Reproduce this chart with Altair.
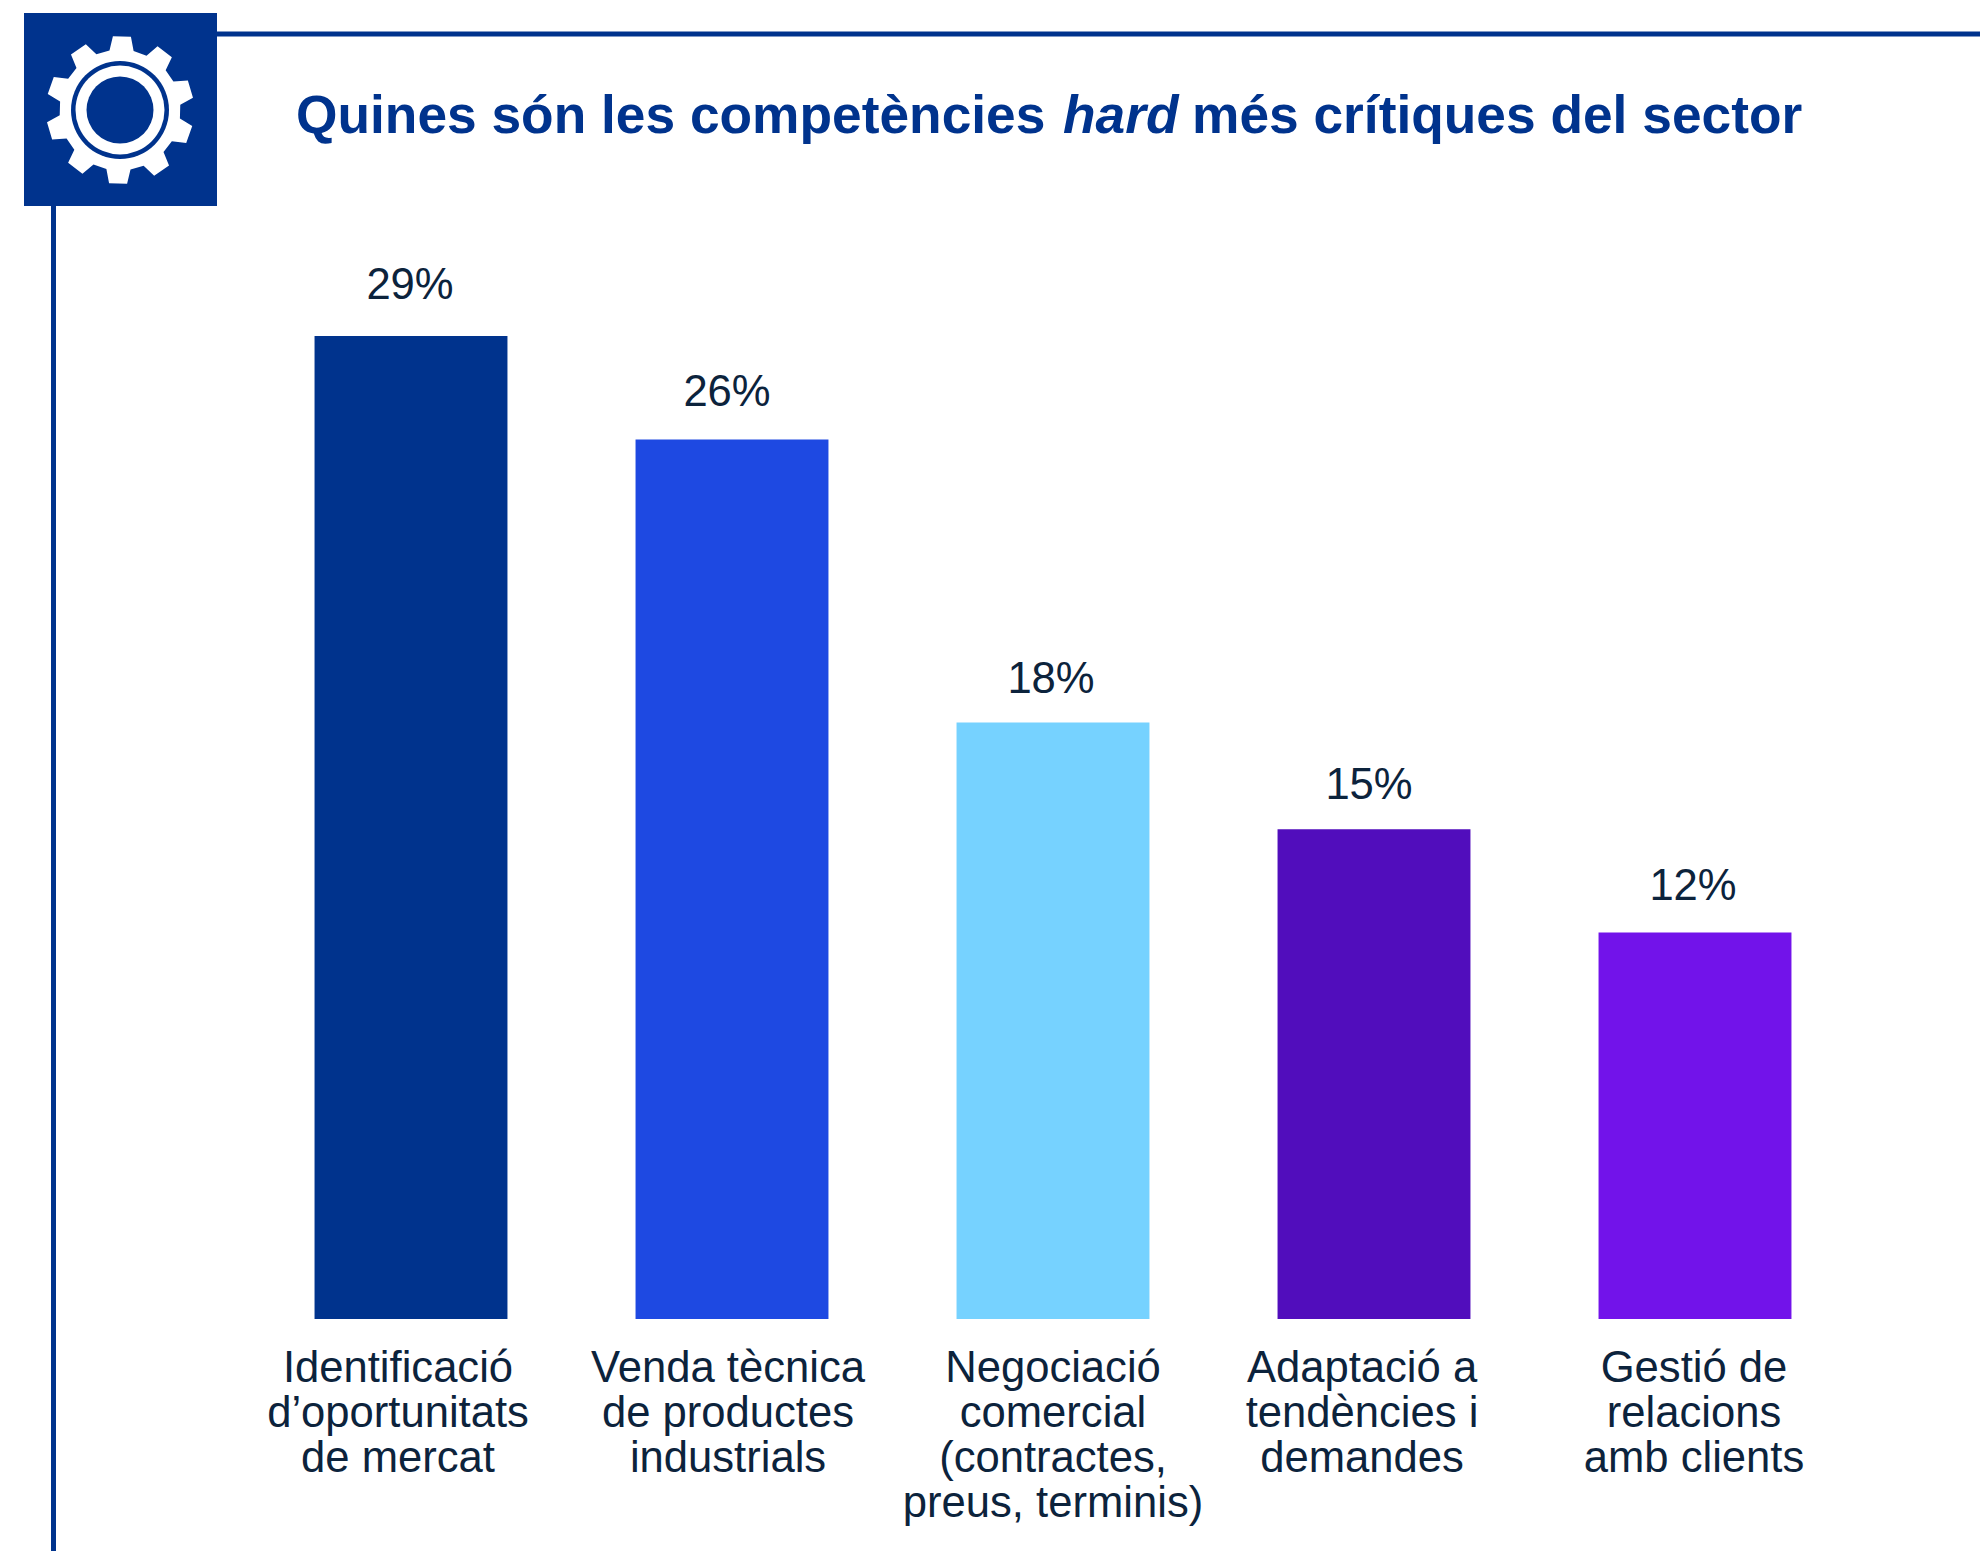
import math
import altair as alt
import pandas as pd

categories = [
    "Identificació|d’oportunitats|de mercat",
    "Venda tècnica|de productes|industrials",
    "Negociació|comercial|(contractes,|preus, terminis)",
    "Adaptació a|tendències i|demandes",
    "Gestió de|relacions|amb clients",
]
values = [29.0, 25.95, 17.6, 14.45, 11.4]
labels = ["29%", "26%", "18%", "15%", "12%"]
colors = ["#00338D", "#1E49E2", "#76D2FF", "#510DBC", "#7213EA"]
title_parts = ["Quines són les competències", "hard", "més crítiques del sector"]

NAVY = "#00338D"
INK = "#0C233C"
FONT = "Liberation Sans"

df = pd.DataFrame({"cat": categories, "value": values, "label": labels})

x_scale = alt.Scale(domain=categories, range=[242.5, 1847.5], paddingInner=0.399, paddingOuter=0.1995, round=False)
x = alt.X(
    "cat:N",
    sort=categories,
    scale=x_scale,
    axis=alt.Axis(
        title=None, domain=False, ticks=False, grid=False, labelAngle=0,
        labelFont=FONT, labelFontSize=43.6, labelColor=INK, labelLineHeight=45.3,
        labelBaseline="top", labelPadding=28, labelLimit=0, labelOverlap=False, labelFlush=False,
        labelExpr="split(datum.label, '|')",
        labelOffset=alt.expr("[-13,-4,0,-12,-1][round(datum.index*4)]"),
    ),
)
y = alt.Y("value:Q", scale=alt.Scale(domain=[0, 29], range=[1311, 328]), axis=None)

bars = alt.Chart(df).mark_bar().encode(
    x=x, y=y,
    color=alt.Color("cat:N", sort=categories, scale=alt.Scale(domain=categories, range=colors), legend=None),
)

nudges_x = [-1, -5, -2, -5, -2]
nudges_y = [-37, -33, -29, -30, -33]
texts = [
    alt.Chart(df).transform_filter(alt.datum.label == lab).mark_text(
        font=FONT, fontSize=43.6, color=INK, baseline="alphabetic", dy=ny, dx=nx
    ).encode(x=alt.X("cat:N", sort=categories, scale=x_scale, axis=None), y=y, text="label:N")
    for lab, nx, ny in zip(labels, nudges_x, nudges_y)
]


def gear_path(teeth=10, tip=74.0, root=60.5, rot=1.5):
    pts = []
    for k in range(teeth):
        a = rot + k * 360 / teeth
        for off, r in ((-11.5, root), (-7, tip), (7, tip), (11.5, root)):
            t = math.radians(a + off)
            pts.append((r * math.sin(t) / 74, -r * math.cos(t) / 74))
    return "M" + "L".join(f"{px:.4f},{py:.4f}" for px, py in pts) + "Z"


def v(n):
    return alt.value(n)


base = alt.Chart(df.head(1))
vline = base.mark_rule(color=NAVY, strokeWidth=5).encode(x=v(45.5), y=v(190), y2=v(1545))
hline = base.mark_rule(color=NAVY, strokeWidth=5).encode(x=v(200), x2=v(1990), y=v(26))
square = base.mark_rect(color=NAVY).encode(x=v(16), x2=v(209), y=v(5), y2=v(198))


def dot(d, color):
    return base.mark_point(shape="circle", filled=True, opacity=1, color=color, size=d * d, strokeWidth=0).encode(
        x=v(112), y=v(102)
    )


gear = base.mark_point(shape=gear_path(), filled=True, opacity=1, color="white", size=148 * 148, strokeWidth=0).encode(
    x=v(112), y=v(102)
)

title_x = [288, 1055, 1184]
title_style = ["normal", "italic", "normal"]
title_marks = [
    base.mark_text(
        font=FONT, fontSize=53.3, fontWeight="bold", fontStyle=s, color=NAVY, align="left", baseline="alphabetic"
    ).encode(x=v(tx), y=v(125), text=alt.value(t))
    for t, tx, s in zip(title_parts, title_x, title_style)
]

chart = alt.layer(
    bars, *texts, vline, hline, square, gear, dot(98, NAVY), dot(89, "white"), dot(67, NAVY), *title_marks
).resolve_axis(x="independent").properties(
    width=1972, height=1311,
    autosize=alt.AutoSizeParams(type="none"),
    padding={"left": 0, "top": 0, "right": 0, "bottom": 232},
    background="white",
).configure_view(stroke=None)

chart.save("out.html", embed_options={"renderer": "svg", "actions": False})
